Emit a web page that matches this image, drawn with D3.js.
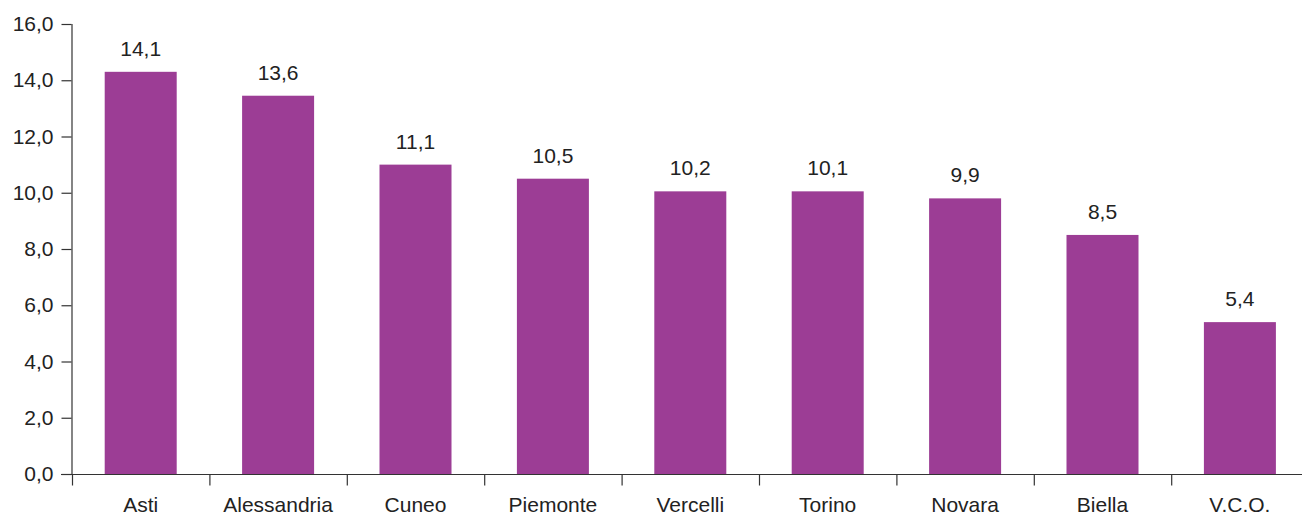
<!DOCTYPE html>
<html><head><meta charset="utf-8">
<script src="https://cdn.jsdelivr.net/npm/d3@7"></script>
<style>body{margin:0;background:#fff}svg{display:block}text{font-family:"Liberation Sans",Arial,Helvetica,sans-serif;fill:#222}</style>
</head><body><svg id="c" width="1302" height="514"></svg>
<script>
const categories = ["Asti","Alessandria","Cuneo","Piemonte","Vercelli","Torino","Novara","Biella","V.C.O."];
const values = [14.3,13.45,11.0,10.5,10.05,10.05,9.8,8.5,5.4];
const valueLabels = ["14,1","13,6","11,1","10,5","10,2","10,1","9,9","8,5","5,4"];
const yTicks = [0,2,4,6,8,10,12,14,16];

const svg = d3.select("#c");
const x0 = 72, step = 137.4;
const x = d3.scaleBand().domain(categories).range([x0, x0 + step*categories.length]).paddingInner(0.476).paddingOuter(0.238);
const y = d3.scaleLinear().domain([0,16]).range([474,24]);
const fmt = d => d3.format(".1f")(d).replace(".", ",");

// bars
svg.selectAll("rect.bar").data(categories).join("rect")
  .attr("x", d => x(d)).attr("width", x.bandwidth())
  .attr("y", (d,i) => y(values[i])).attr("height", (d,i) => y(0) - y(values[i]))
  .attr("fill", "#9c3d95");

// value labels
svg.selectAll("text.val").data(categories).join("text")
  .attr("x", d => x(d) + x.bandwidth()/2).attr("y", (d,i) => y(values[i]) - 16)
  .attr("text-anchor","middle").attr("font-size", 21).text((d,i) => valueLabels[i]);

// y axis
const ya = svg.append("g").attr("transform","translate(71.5,0)")
  .call(d3.axisLeft(y).tickValues(yTicks).tickFormat(fmt).tickSize(10).tickPadding(8));
ya.select(".domain").attr("d","M0.5,24V474").attr("stroke","#333").attr("stroke-width",1.2);
ya.selectAll(".tick line").attr("stroke","#333").attr("stroke-width",1.2);
ya.selectAll(".tick text").attr("font-size",21).attr("font-family",null).attr("fill","#222");

// x axis
const xa = svg.append("g").attr("transform","translate(0,474.5)");
xa.append("line").attr("x1",61).attr("x2",1302).attr("stroke","#333").attr("stroke-width",1.2);
const xt = categories.map((d,i) => x0 + step*i);
xa.selectAll("line.t").data(xt).join("line").attr("class","t")
  .attr("x1",d=>d+0.5).attr("x2",d=>d+0.5).attr("y1",0).attr("y2",11).attr("stroke","#333").attr("stroke-width",1.2);
xa.selectAll("text").data(categories).join("text")
  .attr("x", d => x(d) + x.bandwidth()/2).attr("y", 37)
  .attr("text-anchor","middle").attr("font-size",21).text(d => d);
</script></body></html>
